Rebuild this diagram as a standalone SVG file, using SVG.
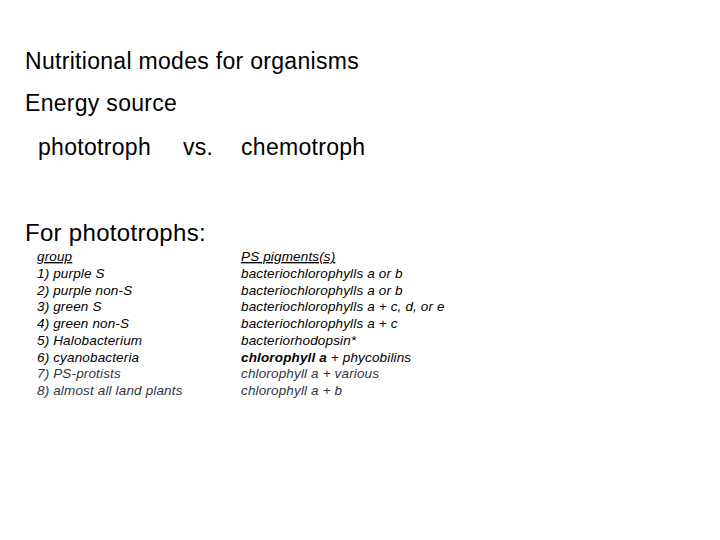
<svg xmlns="http://www.w3.org/2000/svg" width="720" height="540" viewBox="0 0 720 540">
<style>
text{font-family:"Liberation Sans",Arial,sans-serif;fill:#000}
.h{font-size:23px;letter-spacing:0.3px}
.s{font-size:13.5px;font-style:italic;letter-spacing:0.15px}
.g{fill:#333344}
</style>
<rect width="720" height="540" fill="#fff"/>
<text class="h" x="25" y="69">Nutritional modes for organisms</text>
<text class="h" x="25" y="111">Energy source</text>
<text class="h" x="38" y="155">phototroph</text>
<text class="h" x="183" y="155">vs.</text>
<text class="h" x="241" y="155">chemotroph</text>
<text x="25" y="241" font-size="24" letter-spacing="0.3">For phototrophs:</text>
<g class="s">
<text class="s" x="37" y="261" text-decoration="underline">group</text>
<text class="s" x="37" y="278">1) purple S</text>
<text class="s" x="37" y="295">2) purple non-S</text>
<text class="s" x="37" y="311">3) green S</text>
<text class="s" x="37" y="328">4) green non-S</text>
<text class="s" x="37" y="345">5) Halobacterium</text>
<text class="s" x="37" y="362">6) cyanobacteria</text>
<text class="s g" x="37" y="378">7) PS-protists</text>
<text class="s g" x="37" y="395">8) almost all land plants</text>
<text class="s" x="241" y="261" text-decoration="underline">PS pigments(s)</text>
<text class="s" x="241" y="278">bacteriochlorophylls a or b</text>
<text class="s" x="241" y="295">bacteriochlorophylls a or b</text>
<text class="s" x="241" y="311">bacteriochlorophylls a + c, d, or e</text>
<text class="s" x="241" y="328">bacteriochlorophylls a + c</text>
<text class="s" x="241" y="345">bacteriorhodopsin*</text>
<text class="s" x="241" y="362"><tspan font-weight="bold">chlorophyll a</tspan> + phycobilins</text>
<text class="s g" x="241" y="378">chlorophyll a + various</text>
<text class="s g" x="241" y="395">chlorophyll a + b</text>
</g>
</svg>
